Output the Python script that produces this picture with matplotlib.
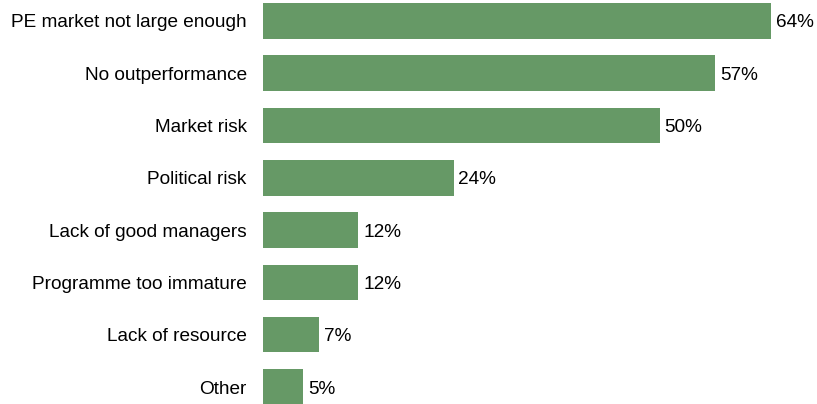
import matplotlib
matplotlib.use("Agg")
import matplotlib.pyplot as plt

categories = ["PE market not large enough", "No outperformance", "Market risk",
              "Political risk", "Lack of good managers", "Programme too immature",
              "Lack of resource", "Other"]
values = [64, 57, 50, 24, 12, 12, 7, 5]

plt.rcParams['font.family'] = ['Liberation Sans', 'DejaVu Sans']

fig = plt.figure(figsize=(8.17, 4.04), dpi=100)
ax = fig.add_axes([263.3 / 817, 0, 1 - 263.3 / 817, 1])
pos = list(range(len(categories)))
bars = ax.barh(pos, values, height=0.68, color="#669966")
ax.set_ylim(7.325, -0.40)
ax.set_xlim(0, (817 - 263.3) / 7.93)
for b, v in zip(bars, values):
    ax.annotate(f"{v}%", (b.get_width(), b.get_y() + b.get_height() / 2),
                xytext=(3.5, 0), textcoords="offset points", va="center_baseline", ha="left",
                fontsize=13.7, color="black")
ax.set_yticks(pos)
ax.set_yticklabels(categories, fontsize=13.7)
ax.tick_params(axis="y", length=0, pad=12)
ax.set_xticks([])
for s in ax.spines.values():
    s.set_visible(False)
fig.savefig("out.png", dpi=100)
